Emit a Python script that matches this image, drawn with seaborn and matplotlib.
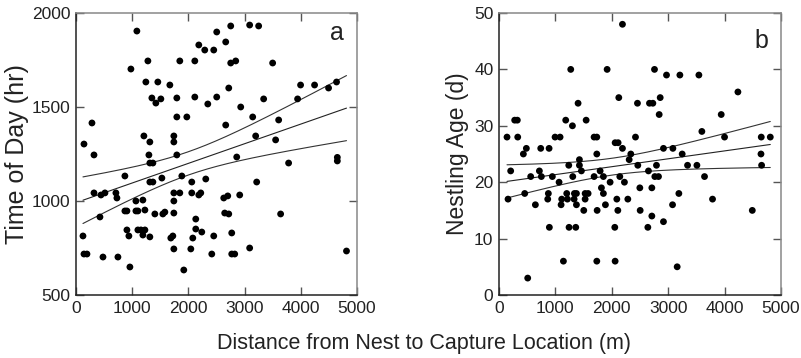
import numpy as np
import pandas as pd
import matplotlib
matplotlib.use("Agg")
import matplotlib.pyplot as plt
import seaborn as sns

# ---- Panel a: distance (m) vs time of day (hr) ----
dist_a = [1083, 2753, 3090, 3250, 2504, 2664, 2185, 2291, 2451, 977,
          1279, 1847, 2114, 2753, 2842, 3499, 1243, 1456, 1670, 2718,
          3996, 4245, 4494, 4636, 1350, 1510, 1421, 1794, 2114, 2345,
          2504, 2931, 3339, 3943, 284, 1794, 1972, 2664, 3144, 3606,
          3197, 3552, 142, 320, 1208, 1314, 1297, 1741, 1741, 1794,
          2860, 4650, 4650, 1314, 1368, 3783, 870, 1528, 1883, 1314,
          1368, 2060, 2309, 3215, 320, 444, 515, 710, 728, 1066,
          1190, 1741, 1847, 1741, 2060, 2185, 2220, 2629, 2700, 2913,
          426, 870, 906, 1066, 1101, 1226, 1403, 1545, 1581, 1741,
          2131, 2646, 2718, 3641, 124, 906, 941, 1101, 1155, 1226,
          1190, 1314, 1687, 1723, 2078, 2131, 2238, 2451, 2771, 142,
          195, 480, 746, 959, 1741, 2043, 2416, 2771, 2824, 3090,
          1918, 4813]
time_a = [1904, 1931, 1936, 1931, 1899, 1846, 1830, 1803, 1803, 1702,
          1745, 1745, 1745, 1734, 1745, 1734, 1633, 1633, 1617, 1601,
          1617, 1617, 1601, 1633, 1548, 1543, 1521, 1548, 1553, 1516,
          1553, 1500, 1543, 1543, 1415, 1447, 1447, 1404, 1447, 1431,
          1346, 1325, 1303, 1245, 1346, 1314, 1245, 1346, 1314, 1245,
          1234, 1232, 1213, 1202, 1202, 1202, 1133, 1122, 1133, 1101,
          1101, 1101, 1117, 1101, 1043, 1032, 1043, 1043, 1016, 1000,
          1005, 1043, 1043, 1000, 1043, 1032, 1043, 1016, 1027, 1032,
          915, 947, 947, 947, 947, 952, 931, 931, 941, 936,
          904, 936, 931, 931, 814, 846, 814, 846, 846, 846,
          819, 809, 803, 814, 803, 851, 835, 814, 830, 718,
          718, 702, 702, 649, 745, 745, 718, 718, 718, 750,
          633, 734]

# ---- Panel b: distance (m) vs nestling age (d) ----
dist_b = [2189, 1272, 1917, 2757, 2970, 3207, 3544, 4236, 2124, 2858,
          1402, 2455, 2668, 2728, 2840, 3940, 278, 325, 1183, 1545,
          1302, 3597, 142, 332, 994, 1083, 1686, 1734, 2420, 3999,
          4650, 4810, 2059, 2112, 485, 740, 888, 2189, 2916, 3083,
          432, 1734, 2337, 3248, 4645, 1426, 2308, 1237, 1426, 2461,
          2792, 3343, 3509, 4656, 207, 716, 1461, 1793, 2650, 562,
          751, 946, 1308, 1686, 1851, 2142, 2763, 2828, 3644, 1065,
          1970, 2224, 1816, 2497, 2710, 456, 875, 1201, 1337, 1373,
          1527, 1580, 1851, 3189, 160, 864, 1112, 1213, 1332, 1527,
          2089, 2284, 3786, 645, 1101, 1373, 1887, 3077, 1503, 1740,
          2107, 2503, 4491, 2710, 2916, 893, 1242, 1361, 2053, 2639,
          1142, 1734, 2059, 3159, 509]
age_b = [48, 40, 40, 40, 39, 39, 39, 36, 35, 35,
         34, 34, 34, 34, 32, 32, 31, 31, 31, 31,
         30, 29, 28, 28, 28, 28, 28, 28, 28, 28,
         28, 28, 27, 27, 26, 26, 26, 26, 26, 26,
         25, 25, 25, 25, 25, 24, 24, 23, 23, 23,
         23, 23, 23, 23, 22, 22, 22, 22, 22, 21,
         21, 21, 21, 21, 21, 21, 21, 21, 21, 20,
         20, 20, 19, 19, 19, 18, 18, 18, 18, 18,
         18, 18, 18, 18, 17, 17, 17, 17, 17, 17,
         17, 17, 17, 16, 16, 16, 16, 16, 15, 15,
         15, 15, 15, 14, 13, 12, 12, 12, 12, 12,
         6, 6, 6, 5, 3]

x_ticks = [0, 1000, 2000, 3000, 4000, 5000]
y_ticks_a = [500, 1000, 1500, 2000]
y_ticks_b = [0, 10, 20, 30, 40, 50]
y_label_a = "Time of Day (hr)"
y_label_b = "Nestling Age (d)"
x_label = "Distance from Nest to Capture Location (m)"

sns.set_theme(style="white")
plt.rcParams['font.family'] = ['Liberation Sans', 'DejaVu Sans']

fig = plt.figure(figsize=(8.01, 3.58), dpi=100)
ax_a = fig.add_axes([76/801, 1-295/358, (357-76)/801, (295-13)/358])
ax_b = fig.add_axes([499/801, 1-295/358, (781-499)/801, (295-13)/358])


def fit_band(x, y):
    x = np.asarray(x, float)
    y = np.asarray(y, float)
    n = len(x)
    b, a = np.polyfit(x, y, 1)
    resid = y - (a + b * x)
    s = np.sqrt(np.sum(resid**2) / (n - 2))
    xm = x.mean()
    sxx = np.sum((x - xm)**2)
    xs = np.linspace(x.min(), x.max(), 200)
    yhat = a + b * xs
    hw = 1.98 * s * np.sqrt(1.0 / n + (xs - xm)**2 / sxx)
    return xs, yhat, yhat - hw, yhat + hw


def draw(ax, xd, yd, yticks, ylim, ylabel, ylsize, lpad, letter, letter_y):
    df = pd.DataFrame({"x": xd, "y": yd})
    sns.scatterplot(data=df, x="x", y="y", ax=ax, color="black", s=24,
                    edgecolor="none", linewidth=0, zorder=3)
    xs, yh, lo, hi = fit_band(xd, yd)
    ax.plot(xs, yh, color="#222222", lw=0.8, zorder=2)
    ax.plot(xs, lo, color="#333333", lw=0.8, zorder=2)
    ax.plot(xs, hi, color="#333333", lw=0.8, zorder=2)
    ax.set_xlim(0, 5000)
    ax.set_ylim(*ylim)
    ax.set_xticks(x_ticks)
    ax.set_yticks(yticks)
    ax.set_xlabel("")
    ax.set_ylabel(ylabel, fontsize=ylsize, color="#222222", labelpad=lpad)
    ax.tick_params(axis="both", which="both", direction="in", length=6,
                   width=1.0, color="#555555", labelsize=12.5,
                   labelcolor="#222222", top=True, right=True,
                   bottom=True, left=True, pad=4)
    for side in ["bottom", "left"]:
        ax.spines[side].set_color("#222222")
        ax.spines[side].set_linewidth(1.1)
    for side in ["top", "right"]:
        ax.spines[side].set_color("#888888")
        ax.spines[side].set_linewidth(1.1)
    ax.text(0.93, letter_y, letter, transform=ax.transAxes, fontsize=18,
            ha="center", va="center", color="#222222")


draw(ax_a, dist_a, time_a, y_ticks_a, (500, 2000), y_label_a, 18, 2, "a", 0.93)
draw(ax_b, dist_b, age_b, y_ticks_b, (0, 50), y_label_b, 16.5, 4, "b", 0.90)

fig.text(424/801, 1-343/358, x_label, fontsize=15.5, ha="center", va="center",
         color="#222222")

fig.savefig("out.png", dpi=100)
